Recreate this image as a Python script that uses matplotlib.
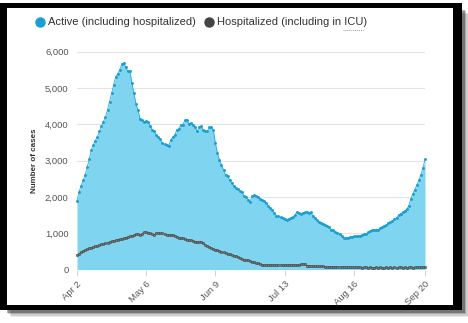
import matplotlib
matplotlib.use("Agg")
import matplotlib.pyplot as plt
from matplotlib.patches import Rectangle
from matplotlib.lines import Line2D
import pandas as pd

start_date = "2020-04-02"
end_date = "2020-09-20"

active = [
    1890, 2140, 2300, 2460, 2600, 2810, 3030, 3290, 3430, 3550,
    3650, 3800, 3940, 4070, 4210, 4400, 4620, 4850, 5080, 5310,
    5390, 5500, 5660, 5680, 5570, 5450, 5470, 5130, 4850, 4560,
    4380, 4150, 4120, 4070, 4090, 4070, 3960, 3850, 3800, 3710,
    3640, 3580, 3480, 3450, 3430, 3390, 3560, 3640, 3700, 3840,
    3880, 3980, 3990, 4110, 4120, 4010, 4030, 3980, 3930, 3800,
    3930, 3940, 3850, 3810, 3800, 3910, 3920, 3850, 3480, 3200,
    3020, 2880, 2740, 2600, 2560, 2470, 2380, 2300, 2240, 2210,
    2150, 2120, 2030, 1990, 1920, 1870, 2010, 2050, 2030, 1990,
    1940, 1910, 1890, 1820, 1750, 1690, 1640, 1560, 1460, 1460,
    1440, 1410, 1380, 1370, 1400, 1420, 1450, 1490, 1580, 1550,
    1540, 1560, 1570, 1570, 1560, 1570, 1460, 1410, 1350, 1320,
    1290, 1260, 1230, 1200, 1170, 1100, 1080, 1040, 1010, 990,
    930, 880, 860, 880, 890, 900, 910, 920, 920, 930,
    950, 970, 980, 1020, 1050, 1080, 1090, 1090, 1100, 1140,
    1170, 1210, 1230, 1270, 1300, 1330, 1390, 1430, 1500, 1540,
    1570, 1610, 1660, 1750, 1950, 2080, 2200, 2330, 2470, 2610,
    2800, 3030,
]

hospitalized = [
    400, 440, 480, 515, 540, 560, 585, 600, 620, 640,
    650, 665, 690, 700, 720, 740, 765, 780, 790, 810,
    820, 830, 850, 860, 880, 900, 920, 930, 950, 975,
    980, 950, 990, 1020, 1030, 1010, 1000, 980, 950, 1010,
    1010, 1000, 995, 970, 950, 960, 950, 950, 925, 900,
    880, 870, 860, 840, 820, 810, 800, 780, 770, 760,
    770, 765, 740, 680, 650, 620, 590, 570, 550, 530,
    515, 490, 470, 445, 430, 415, 400, 380, 360, 340,
    310, 290, 270, 260, 250, 240, 220, 200, 185, 175,
    165, 130, 125, 120, 125, 120, 125, 120, 125, 120,
    125, 120, 125, 120, 125, 120, 125, 120, 125, 130,
    140, 155, 145, 110, 100, 95, 95, 90, 90, 85,
    85, 85, 80, 80, 78, 75, 72, 74, 70, 68,
    70, 66, 64, 66, 62, 60, 62, 58, 60, 57,
    55, 58, 56, 54, 57, 55, 53, 56, 54, 57,
    55, 53, 56, 54, 58, 55, 57, 54, 56, 58,
    55, 57, 54, 56, 58, 55, 57, 59, 56, 58,
    60, 62,
]

tick_dates = ["2020-04-02", "2020-05-06", "2020-06-09", "2020-07-13", "2020-08-16", "2020-09-20"]
tick_labels = ["Apr 2", "May 6", "Jun 9", "Jul 13", "Aug 16", "Sep 20"]
y_ticks = [0, 1000, 2000, 3000, 4000, 5000, 6000]
y_labels = ["0", "1,000", "2,000", "3,000", "4,000", "5,000", "6,000"]

series_names = ["Active (including hospitalized)", "Hospitalized (including in ICU)"]

dates = pd.date_range(start_date, end_date, freq="D")

plt.rcParams["font.family"] = ["Liberation Sans", "DejaVu Sans"]

W, H = 468, 323
fig = plt.figure(figsize=(W / 100, H / 100), dpi=100)
fig.patch.set_facecolor("white")

def px(x0, y0, x1, y1):
    return (x0 / W, 1 - y1 / H), (x1 - x0) / W, (y1 - y0) / H

# shadow
for i, a in enumerate([0.08, 0.12, 0.18, 0.3]):
    off = 7 - i * 1.5
    xy, w, h = px(4 + off, 7 + off, 462 + off, 310 + off)
    fig.patches.append(Rectangle(xy, w, h, transform=fig.transFigure,
                                 facecolor="black", alpha=a, edgecolor="none", zorder=-10))
xy, w, h = px(0, 3, 462, 310)
fig.patches.append(Rectangle(xy, w, h, transform=fig.transFigure,
                             facecolor="black", edgecolor="none", zorder=-9))
xy, w, h = px(7, 8, 453, 305)
fig.patches.append(Rectangle(xy, w, h, transform=fig.transFigure,
                             facecolor="white", edgecolor="none", zorder=-8))

ax = fig.add_axes([77 / W, 1 - 269.5 / H, (425 - 77) / W, (269.5 - 51.5) / H])
ax.set_facecolor("none")

area_color = "#7fd4f0"
active_color = "#1a9fd0"
hosp_color = "#555555"

ax.fill_between(dates, 0, active, color=area_color, lw=0, zorder=2)
ax.plot(dates, active, color=active_color, lw=0.5, marker="o", ms=2.1,
        mec=active_color, mfc=active_color, mew=0, zorder=4, clip_on=False)
ax.plot(dates, hospitalized, color="#6a6a6a", lw=0.5, marker="o", ms=1.7,
        mec="#3a3a3a", mfc="#7a7a7a", mew=0.35, zorder=5, clip_on=False)

ax.set_xlim(dates[0], dates[-1])
ax.set_ylim(0, 6000)
ax.set_yticks(y_ticks)
ax.set_yticklabels(y_labels)
ax.set_xticks(pd.to_datetime(tick_dates))
ax.set_xticklabels(tick_labels, rotation=45, ha="right", rotation_mode="anchor")

ax.grid(axis="y", color="#e3e3e3", lw=0.8, zorder=0)
ax.set_axisbelow(True)
for s in ax.spines.values():
    s.set_visible(False)
ax.tick_params(axis="y", length=0, pad=6, labelsize=6.8, labelcolor="#555555")
ax.tick_params(axis="x", length=4, width=0.6, color="#cccccc", pad=3,
               labelsize=6.8, labelcolor="#555555")

ax.set_ylabel("Number of cases", fontsize=5.8, fontweight="bold", color="#333333", labelpad=5)

# legend (drawn at top)
fig.add_artist(Line2D([40 / W], [1 - 22 / H], marker="o", ms=6.5, color=active_color,
                      mec=active_color, lw=0, transform=fig.transFigure))
fig.text(48 / W, 1 - 22 / H, series_names[0], fontsize=8, color="#333333",
         va="center", ha="left")
fig.add_artist(Line2D([209 / W], [1 - 22 / H], marker="o", ms=6.5, color="#444444",
                      mec="#444444", lw=0, transform=fig.transFigure))
fig.text(217 / W, 1 - 22 / H, series_names[1], fontsize=8, color="#333333",
         va="center", ha="left")
fig.add_artist(Line2D([343 / W, 363 / W], [1 - 29.5 / H, 1 - 29.5 / H], lw=0.7,
                      ls=(0, (1, 1)), color="#999999", transform=fig.transFigure))

fig.savefig("out.png", dpi=100)
